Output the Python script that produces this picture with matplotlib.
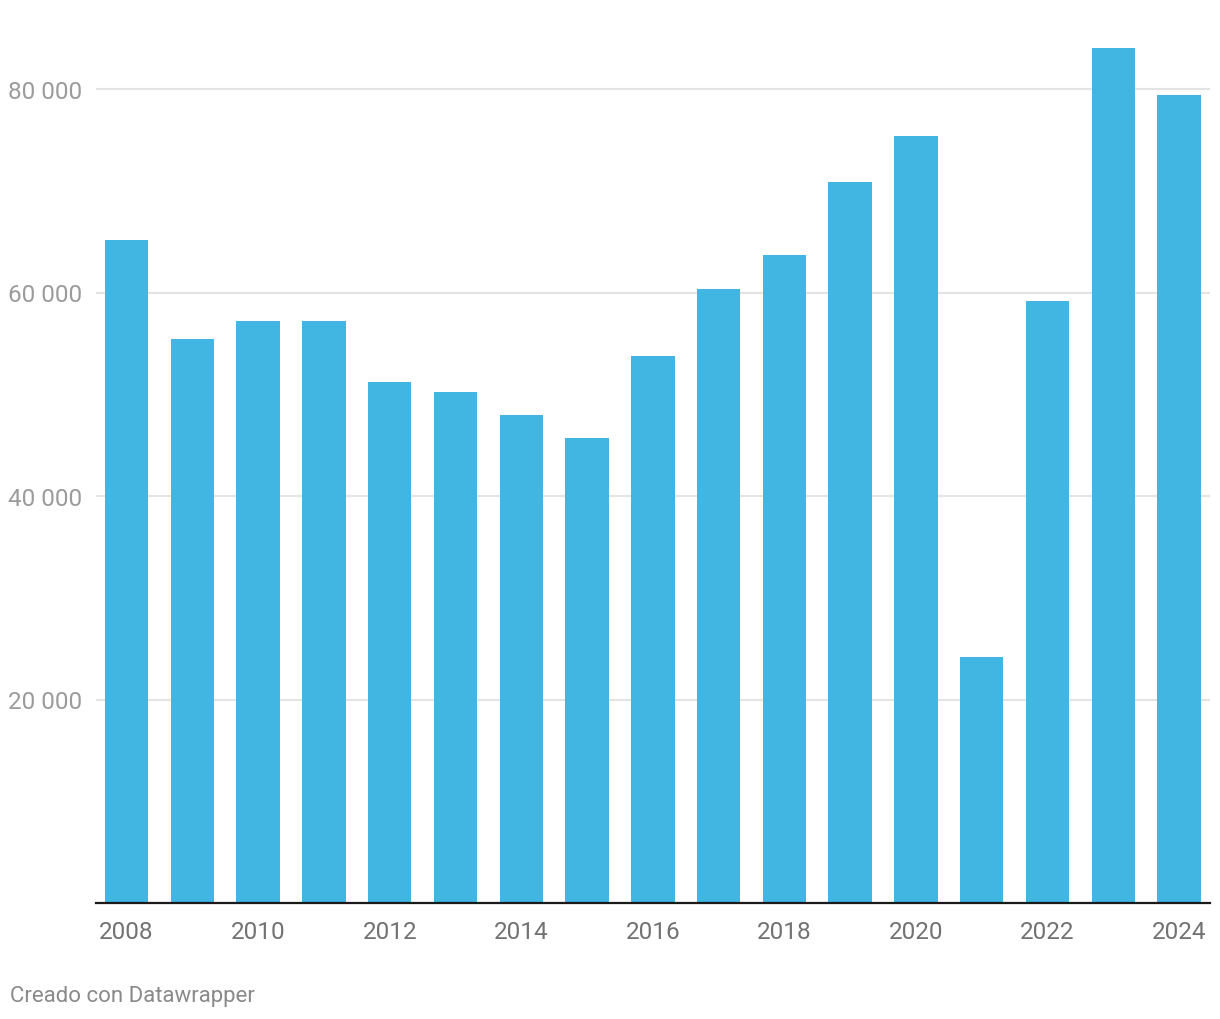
import matplotlib.pyplot as plt
import numpy as np

plt.rcParams['font.family'] = ['Roboto', 'DejaVu Sans']

# Data
years = list(range(2008, 2025))
values = [65200, 55400, 57200, 57200, 51200, 50200, 48000, 45700, 53800,
          60300, 63700, 70900, 75400, 24200, 59200, 84000, 79400]
y_ticks = [20000, 40000, 60000, 80000]
y_tick_labels = ["20 000", "40 000", "60 000", "80 000"]

W, H = 1220, 1020
fig = plt.figure(figsize=(W / 100, H / 100), dpi=100)
ax_left, ax_right, ax_bottom = 96, 1210, 904
ymax = 85000
px_per_unit = (904 - 90) / 80000
ax_top = ax_bottom - ymax * px_per_unit
ax = fig.add_axes([ax_left / W, (H - ax_bottom) / H,
                   (ax_right - ax_left) / W, (ax_bottom - ax_top) / H])

x = np.arange(len(years))
ax.bar(x, values, width=0.66, color='#41b6e2', zorder=3)

ax.set_xlim(-0.465, len(years) - 1 + 0.47)
ax.set_ylim(0, ymax)

# grid lines
ax.set_yticks(y_ticks)
ax.set_yticklabels(y_tick_labels)
ax.yaxis.grid(True, color='#e4e4e4', linewidth=1.5, zorder=0)
ax.tick_params(axis='y', length=0, pad=10, labelsize=17.5, labelcolor='#9b9b9b')

ax.set_xticks(x[::2])
ax.set_xticklabels([str(y) for y in years[::2]])
ax.tick_params(axis='x', length=0, pad=12, labelsize=17.5, labelcolor='#727272')

for s in ['top', 'right', 'left']:
    ax.spines[s].set_visible(False)
ax.spines['bottom'].set_color('#1a1a1a')
ax.spines['bottom'].set_linewidth(1.6)
ax.spines['bottom'].set_zorder(4)

fig.text(10 / W, 1 - 997 / H, "Creado con Datawrapper", fontsize=16,
         color='#8a8a8a', ha='left', va='center')

fig.savefig('out.png', dpi=100)
